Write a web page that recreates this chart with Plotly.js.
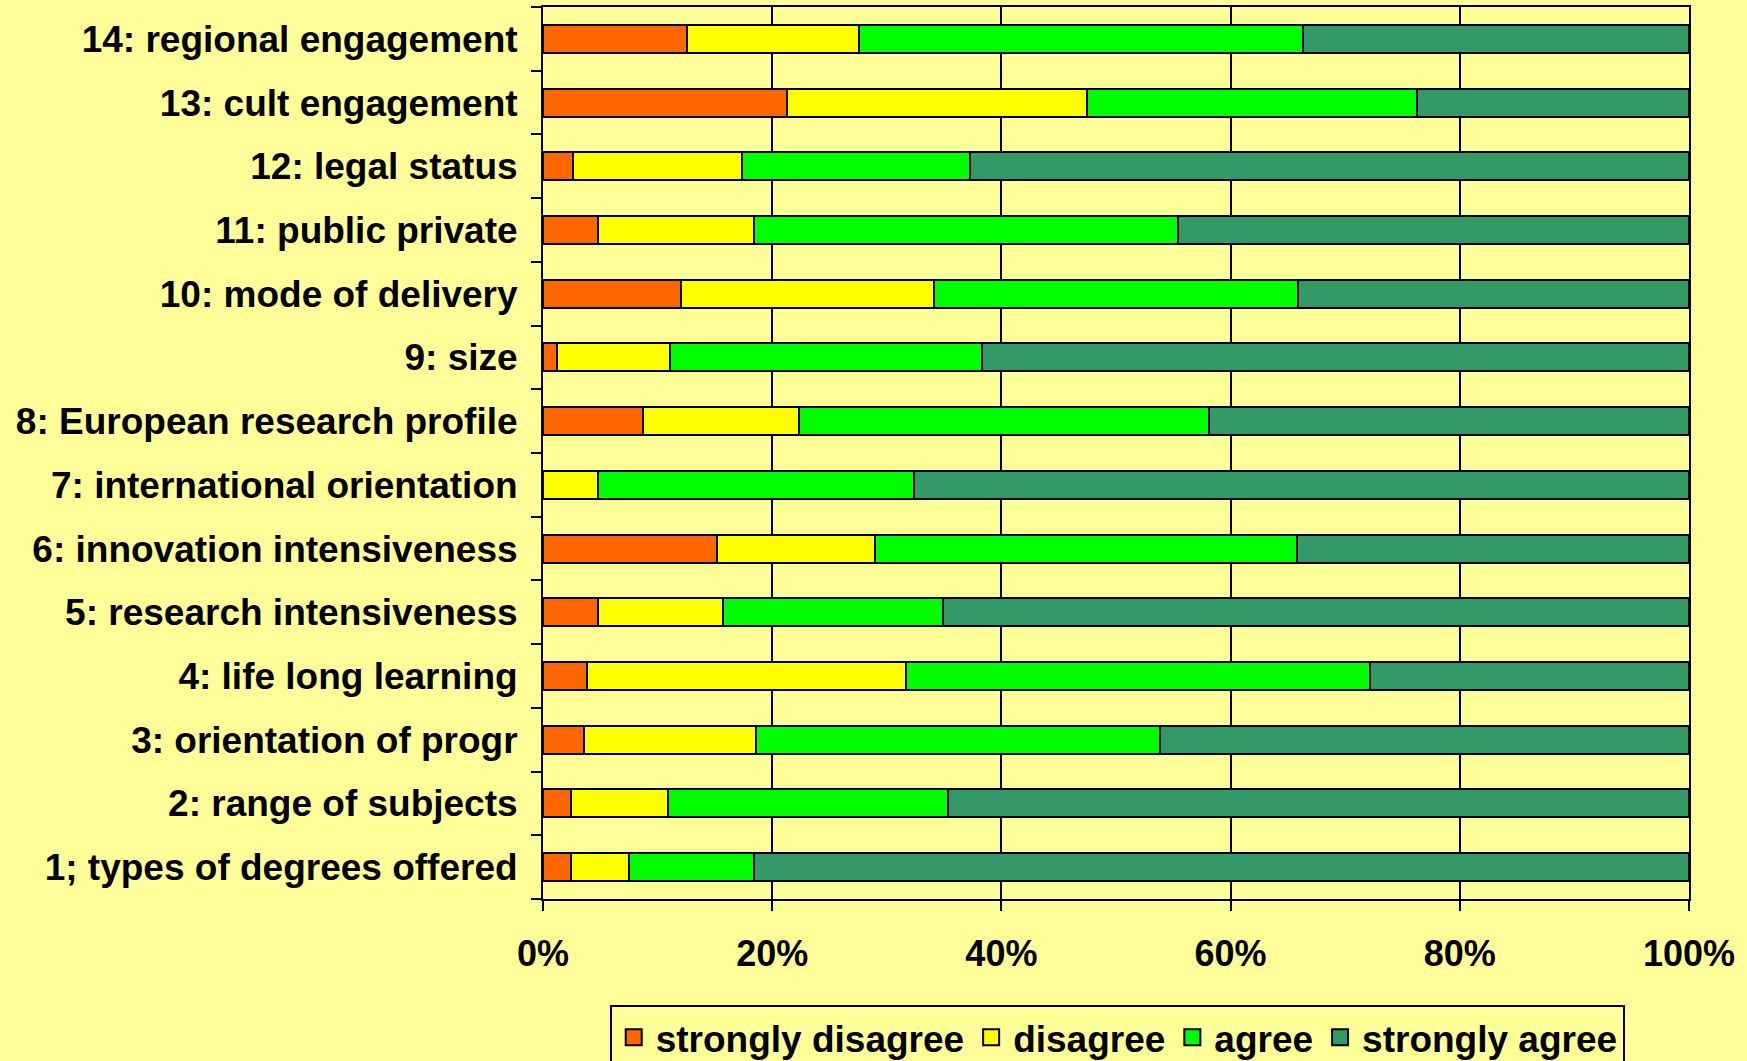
<!DOCTYPE html>
<html>
<head>
<meta charset="utf-8">
<script src="https://cdn.plot.ly/plotly-3.0.1.min.js"></script>
<style>
  html, body { margin: 0; padding: 0; background: #FFFF99; }
  #chart { width: 1747px; height: 1061px; }
</style>
</head>
<body>
<div id="chart"></div>
<script>
// Categories, bottom to top
const categories = [
  "1; types of degrees offered",
  "2: range of subjects",
  "3: orientation of progr",
  "4: life long learning",
  "5: research intensiveness",
  "6: innovation intensiveness",
  "7: international orientation",
  "8: European research profile",
  "9: size",
  "10: mode of delivery",
  "11: public private",
  "12: legal status",
  "13: cult engagement",
  "14: regional engagement"
];

// Percentages per response
const stronglyDisagree = [2.4, 2.4, 3.6, 3.8, 4.8, 15.2, 0.0, 8.7, 1.2, 12.0, 4.8, 2.6, 21.3, 12.6];
const disagree         = [5.1, 8.5, 15.0, 27.9, 10.9, 13.8, 4.8, 13.6, 9.9, 22.1, 13.6, 14.8, 26.2, 15.0];
const agree            = [10.9, 24.4, 35.2, 40.5, 19.2, 36.8, 27.6, 35.8, 27.2, 31.8, 37.0, 19.9, 28.8, 38.7];
const stronglyAgree    = [81.6, 64.7, 46.2, 27.8, 65.1, 34.2, 67.6, 41.9, 61.7, 34.1, 44.6, 62.7, 23.7, 33.7];

const seriesNames = ["strongly disagree", "disagree", "agree", "strongly agree"];
const seriesColors = ["#FF6600", "#FFFF00", "#00FF00", "#339966"];
const seriesValues = [stronglyDisagree, disagree, agree, stronglyAgree];

const xTickVals = [0, 20, 40, 60, 80, 100];
const xTickText = xTickVals.map(v => v + "%");

const FONT = "Liberation Sans, Arial, sans-serif";

const barTraces = seriesNames.map((name, i) => ({
  type: "bar",
  orientation: "h",
  name: name,
  legendgroup: name,
  showlegend: false,
  y: categories,
  x: seriesValues[i],
  marker: { color: seriesColors[i], line: { color: "#000000", width: 2 } },
  hoverinfo: "skip"
}));

// Legend keys (square swatches) linked to the bar series
const legendTraces = seriesNames.map((name, i) => ({
  type: "scatter",
  mode: "markers",
  name: name,
  legendgroup: name,
  showlegend: true,
  x: [null],
  y: [null],
  marker: { symbol: "square", size: 17, color: seriesColors[i], line: { color: "#000000", width: 2 } },
  hoverinfo: "skip"
}));

const layout = {
  width: 1747,
  height: 1061,
  paper_bgcolor: "#FFFF99",
  plot_bgcolor: "#FFFF99",
  font: { family: FONT, size: 36, color: "#000000", weight: "bold" },
  margin: { l: 543, r: 58, t: 7, b: 162, autoexpand: false },
  barmode: "stack",
  bargap: 0.56,
  showlegend: true,
  xaxis: {
    range: [0, 100],
    tickmode: "array",
    tickvals: xTickVals,
    ticktext: xTickText,
    showgrid: true,
    gridcolor: "#000000",
    gridwidth: 2,
    zeroline: false,
    showline: true,
    linecolor: "#000000",
    linewidth: 2,
    mirror: true,
    ticks: "outside",
    ticklen: 10,
    tickwidth: 2,
    tickcolor: "#000000",
    ticklabelstandoff: 12,
    tickfont: { family: FONT, size: 36, color: "#000000", weight: "bold" },
    fixedrange: true
  },
  yaxis: {
    type: "category",
    categoryorder: "array",
    categoryarray: categories,
    range: [-0.5, 13.5],
    showgrid: false,
    zeroline: false,
    showline: true,
    linecolor: "#000000",
    linewidth: 2,
    mirror: true,
    ticks: "outside",
    tickson: "boundaries",
    ticklen: 10,
    tickwidth: 2,
    tickcolor: "#000000",
    ticklabelstandoff: 16,
    tickfont: { family: FONT, size: 37, color: "#000000", weight: "bold" },
    fixedrange: true
  },
  legend: {
    orientation: "h",
    xref: "container",
    yref: "container",
    x: 0.349,
    xanchor: "left",
    y: 0.053,
    yanchor: "top",
    itemsizing: "trace",
    itemwidth: 34,
    bgcolor: "#FFFF99",
    bordercolor: "#000000",
    borderwidth: 2,
    traceorder: "normal",
    font: { family: FONT, size: 37, color: "#000000", weight: "bold" }
  }
};

Plotly.newPlot("chart", barTraces.concat(legendTraces), layout, { displayModeBar: false, staticPlot: true });
</script>
</body>
</html>
